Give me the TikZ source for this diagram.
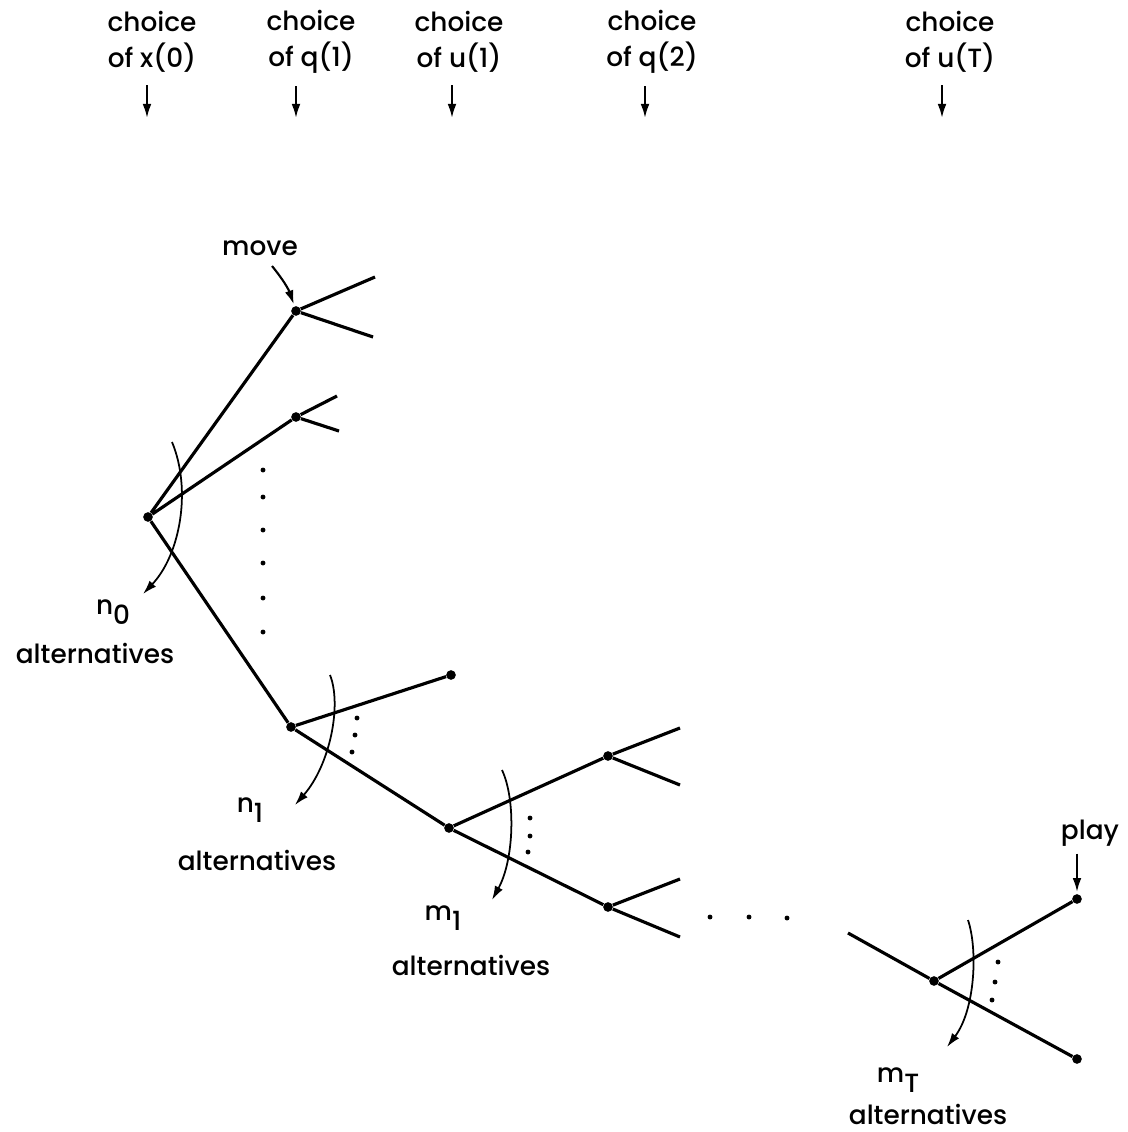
\documentclass[tikz,border=0pt]{standalone}
\usepackage{fontspec}
\setmainfont{Poppins}[UprightFont=* Medium]
\usetikzlibrary{arrows.meta}
\newcommand{\altsub}[2]{#1\raisebox{-0.65ex}{#2}}

\tikzset{
  dot/.style={circle,fill,inner sep=0pt,minimum size=5.5pt},
  txt/.style={align=center,inner sep=1pt,font=\fontsize{15}{20.5}\selectfont},
  branch/.style={line width=1.8pt},
  sweep/.style={line width=1pt,->},
  pointer/.style={line width=1.2pt,->},
}

\begin{document}
\begin{tikzpicture}[x=0.02cm,y=-0.02cm,>={Latex[length=8pt,width=5pt]}]
\useasboundingbox (0,0) rectangle (1128,1132);
% time line at the top
\node[txt] (cx) at (152,42) {choice\\of x(0)};
\node[txt] (cq) at (311,42) {choice\\of q(1)};
\node[txt] (cu) at (459,42) {choice\\of u(1)};
\node[txt] (cr) at (652,42) {choice\\of q(2)};
\node[txt] (ct) at (950,42) {choice\\of u(T)};
\coordinate (tx) at (147,118);
\coordinate (tq) at (296,118);
\coordinate (tu) at (452,118);
\coordinate (tr) at (645,118);
\coordinate (tt) at (942,118);
\draw[pointer,shorten <=6pt] (cx.south -| tx) -- (tx);
\draw[pointer,shorten <=6pt] (cq.south -| tq) -- (tq);
\draw[pointer,shorten <=6pt] (cu.south -| tu) -- (tu);
\draw[pointer,shorten <=6pt] (cr.south -| tr) -- (tr);
\draw[pointer,shorten <=6pt] (ct.south -| tt) -- (tt);
% the moves
\node[dot] (r)  at (148,517) {};
\node[dot] (a1) at (296,311) {};
\node[dot] (a2) at (296,417) {};
\node[dot] (b)  at (291,727) {};
\node[dot] (bx) at (451,675) {};
\node[dot] (c)  at (449,828) {};
\node[dot] (d1) at (608,756) {};
\node[dot] (d2) at (608,907) {};
\node[dot] (e)  at (934,981) {};
\node[dot] (p1) at (1077,899) {};
\node[dot] (p2) at (1077,1059) {};
\coordinate (a1u) at (375,277);
\coordinate (a1d) at (373,337);
\coordinate (a2u) at (337,396);
\coordinate (a2d) at (339,431);
\coordinate (d1u) at (680,728);
\coordinate (d1d) at (680,785);
\coordinate (d2u) at (680,879);
\coordinate (d2d) at (680,937);
\coordinate (ein) at (848,933);
\draw[branch] (a1u) -- (a1) -- (a1d);
\draw[branch] (a2u) -- (a2) -- (a2d);
\draw[branch] (a1) -- (r) -- (a2);
\draw[branch] (r) -- (b) -- (bx);
\draw[branch] (b) -- (c) -- (d1);
\draw[branch] (c) -- (d2);
\draw[branch] (d1u) -- (d1) -- (d1d);
\draw[branch] (d2u) -- (d2) -- (d2d);
\draw[branch] (ein) -- (e) -- (p1);
\draw[branch] (e) -- (p2);
% omitted alternatives
\fill (263,470) circle (1.4pt) (263,497) circle (1.4pt) (263,530) circle (1.4pt)
      (263,563) circle (1.4pt) (263,598) circle (1.4pt) (263,632) circle (1.4pt);
\fill (357,718) circle (1.4pt) (355,735) circle (1.4pt) (352,752) circle (1.4pt);
\fill (530,818) circle (1.4pt) (530,836) circle (1.4pt) (528,852) circle (1.4pt);
\fill (998,962) circle (1.4pt) (995,982) circle (1.4pt) (992,1000) circle (1.4pt);
\fill (710,917) circle (1.4pt) (749,917) circle (1.4pt) (787,918) circle (1.4pt);
% sweeps over the alternatives
\draw[sweep] (172,442) .. controls (192,490) and (180,555) .. (143,594);
\draw[sweep] (330,675) .. controls (342,705) and (330,765) .. (295,805);
\draw[sweep] (502,770) .. controls (516,800) and (514,860) .. (492,900);
\draw[sweep] (968,920) .. controls (978,950) and (975,1010) .. (947,1047);
% labels
\node[txt] (mv) at (260,248) {move};
\node[txt] (pl) at (1090,833) {play};
\coordinate (mvs) at (272,266);
\draw[pointer,shorten >=1pt] (mvs) to[bend left=10] (a1);
\draw[pointer,shorten <=3pt,shorten >=1pt] (pl.south -| p1) -- (p1);
\node[txt] (n0) at (113,612) {\altsub{n}{0}};
\node[txt] (l0) at (95,653) {alternatives};
\node[txt] (n1) at (250,810) {\altsub{n}{1}};
\node[txt] (l1) at (257,860) {alternatives};
\node[txt] (m1) at (443,918) {\altsub{m}{1}};
\node[txt] (l2) at (471,965) {alternatives};
\node[txt] (mt) at (898,1080) {\altsub{m}{T}};
\node[txt] (l3) at (928,1114) {alternatives};
\end{tikzpicture}
\end{document}
